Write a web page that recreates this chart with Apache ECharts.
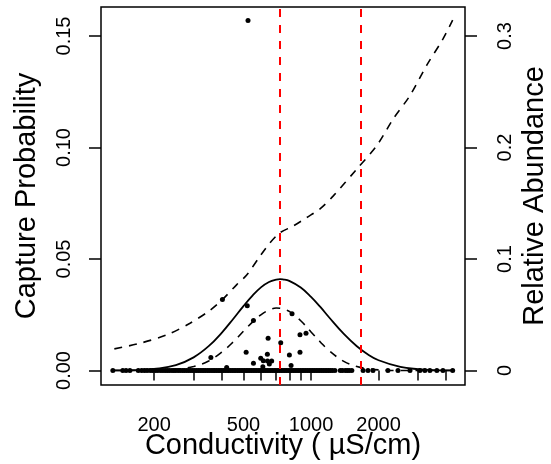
<!DOCTYPE html>
<html>
<head>
<meta charset="utf-8">
<script src="https://cdn.jsdelivr.net/npm/echarts@6/dist/echarts.min.js"></script>
<style>
html,body{margin:0;padding:0;background:#fff;}
#chart{width:551px;height:464px;}
</style>
</head>
<body>
<div id="chart"></div>
<script>
// ---- data (conductivity in uS/cm) ----
const zeroCond = [131, 145, 150, 156, 170, 176, 181, 186, 192, 197, 203, 208, 214, 219, 224, 229, 234, 240, 245, 250, 256, 262, 268, 273, 279, 285, 291, 297, 303, 309, 315, 321, 327, 333, 339, 346, 352, 359, 366, 372, 379, 386, 393, 400, 408, 415, 423, 430, 438, 446, 454, 462, 471, 479, 488, 497, 506, 515, 524, 534, 543, 553, 563, 573, 584, 594, 605, 616, 627, 638, 650, 662, 674, 686, 698, 711, 724, 737, 750, 764, 777, 791, 806, 820, 835, 850, 866, 882, 898, 914, 930, 947, 964, 982, 1000, 1018, 1036, 1055, 1074, 1094, 1114, 1134, 1155, 1176, 1198, 1220, 1245, 1278, 1350, 1380, 1420, 1450, 1480, 1520, 1706, 1794, 1888, 2200, 2440, 2760, 3056, 3215, 3385, 3635, 3870, 4275];
const captureCond = [524, 403, 520, 823, 554, 893, 950, 644, 733, 514, 639, 801, 893, 358, 597, 613, 640, 668, 554, 652, 815, 610, 421];
const captureProb = [0.157, 0.0318, 0.029, 0.0254, 0.0224, 0.016, 0.0167, 0.0145, 0.0125, 0.0082, 0.0073, 0.007, 0.0082, 0.0058, 0.0055, 0.0044, 0.0043, 0.0043, 0.0032, 0.0029, 0.0023, 0.0017, 0.0013];

const curveCond = [131, 150, 175, 200, 250, 300, 350, 400, 450, 500, 550, 600, 650, 700, 728, 750, 800, 900, 1000, 1100, 1200, 1400, 1600, 1800, 2000, 2500, 3000, 3500, 4275];
const solidCurve = [0.00003, 0.0001, 0.0003, 0.0007, 0.0024, 0.0059, 0.0109, 0.0169, 0.0231, 0.0289, 0.0337, 0.0374, 0.0397, 0.0408, 0.041, 0.0409, 0.0402, 0.0372, 0.033, 0.0285, 0.024, 0.0164, 0.0109, 0.0071, 0.0046, 0.0016, 0.0006, 0.0002, 0.00005];
const lowerDashCurve = [0, 0, 0, 0.0001, 0.0005, 0.0018, 0.0043, 0.0082, 0.0128, 0.0176, 0.0218, 0.0251, 0.0271, 0.028, 0.0279, 0.0274, 0.0265, 0.0223, 0.0173, 0.0128, 0.009, 0.0041, 0.0018, 0.0008, 0.0003, 0, 0, 0, 0];

const upperCond = [133, 173, 228, 289, 355, 403, 467, 517, 593, 657, 728, 834, 957, 1097, 1257, 1598, 1961, 2323, 2759, 3274, 3882, 4275];
const upperDashCurve = [0.0097, 0.0122, 0.016, 0.0212, 0.027, 0.0318, 0.0385, 0.0428, 0.0513, 0.0573, 0.0618, 0.0648, 0.0686, 0.0725, 0.0783, 0.0903, 0.1008, 0.1128, 0.1233, 0.1368, 0.1489, 0.1571];

const refLines = [728, 1652];

const xTickValues = [200, 300, 400, 500, 600, 700, 800, 900, 1000, 2000, 3000, 4000];
const xLabelValues = [200, 500, 1000, 2000];
const leftTicks = [0, 0.05, 0.1, 0.15];
const rightTicks = [0, 0.1, 0.2, 0.3];

// ---- build ----
const L = Math.log10;
const pairs = (xs, ys) => xs.map((x, i) => [L(x), ys[i]]);
const font = 'Liberation Sans, Arial, Helvetica, sans-serif';

const chart = echarts.init(document.getElementById('chart'), null, {renderer: 'canvas'});
chart.setOption({
  animation: false,
  backgroundColor: '#fff',
  grid: {left: 101, right: 86, top: 7, bottom: 79, containLabel: false, outerBoundsMode: 'none',
    show: true, borderColor: '#000', borderWidth: 1.5, backgroundColor: 'transparent'},
  xAxis: {
    type: 'value', min: L(116), max: L(4852),
    axisLine: {show: false},
    splitLine: {show: false},
    axisTick: {show: true, length: 10, lineStyle: {color: '#000', width: 1.5}, customValues: xTickValues.map(L)},
    axisLabel: {customValues: xLabelValues.map(L), margin: 30, fontSize: 20, color: '#000', fontFamily: font,
      formatter: v => String(Math.round(Math.pow(10, v)))},
    name: 'Conductivity ( \u00b5S/cm)', nameLocation: 'middle', nameGap: 46, nameMoveOverlap: false,
    nameTextStyle: {fontSize: 29, color: '#000', fontFamily: font}
  },
  yAxis: [{
    type: 'value', min: -0.0065, max: 0.163, position: 'left',
    axisLine: {show: false}, splitLine: {show: false},
    axisTick: {show: true, length: 12, lineStyle: {color: '#000', width: 1.5}, customValues: leftTicks},
    axisLabel: {customValues: leftTicks, rotate: 90, margin: 27, fontSize: 20, color: '#000', fontFamily: font,
      formatter: v => v.toFixed(2)},
    name: 'Capture Probability', nameLocation: 'middle', nameGap: 60, nameRotate: 90, nameMoveOverlap: false,
    nameTextStyle: {fontSize: 29, color: '#000', fontFamily: font}
  }, {
    type: 'value', min: -0.013, max: 0.326, position: 'right',
    axisLine: {show: false}, splitLine: {show: false},
    axisTick: {show: true, length: 12, lineStyle: {color: '#000', width: 1.5}, customValues: rightTicks},
    axisLabel: {customValues: rightTicks, rotate: 90, margin: 30, fontSize: 20, color: '#000', fontFamily: font,
      formatter: v => (v === 0 ? '0' : String(Math.round(v * 10) / 10))},
    name: 'Relative Abundance', nameLocation: 'middle', nameGap: 55, nameRotate: 90, nameMoveOverlap: false,
    nameTextStyle: {fontSize: 29, color: '#000', fontFamily: font}
  }],
  series: [
    {type: 'line', data: pairs(upperCond, upperDashCurve), smooth: 0.3, symbol: 'none',
      lineStyle: {color: '#000', width: 1.6, type: [8, 7]}},
    {type: 'line', data: pairs(curveCond, solidCurve), smooth: 0.4, symbol: 'none',
      lineStyle: {color: '#000', width: 1.8}},
    {type: 'line', data: pairs(curveCond, lowerDashCurve), smooth: 0.4, symbol: 'none',
      lineStyle: {color: '#000', width: 1.6, type: [8, 7]},
      markLine: {silent: true, symbol: 'none', label: {show: false},
        lineStyle: {color: '#ff0000', width: 2, type: [8, 8]},
        data: refLines.map(c => ({xAxis: L(c)}))}},
    {type: 'scatter', data: zeroCond.map(c => [L(c), 0]), symbol: 'circle', symbolSize: 5,
      itemStyle: {color: '#000', opacity: 1}},
    {type: 'scatter', data: pairs(captureCond, captureProb), symbol: 'circle', symbolSize: 5,
      itemStyle: {color: '#000', opacity: 1}}
  ]
});
</script>
</body>
</html>
